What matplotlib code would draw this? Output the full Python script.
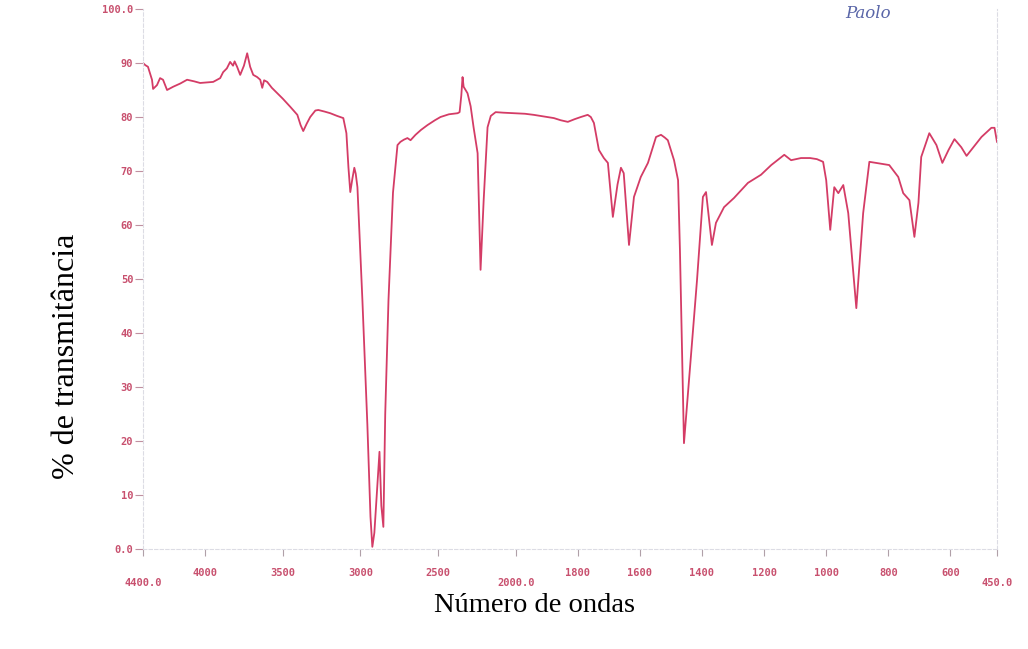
import numpy as np
import matplotlib
matplotlib.use("Agg")
import matplotlib.pyplot as plt

# IR spectrum (wavenumber in cm-1, % transmittance)
wavenumber = [4400, 4385, 4368, 4342, 4335, 4310, 4290, 4271, 4245, 4206, 4160, 4116,
              4070, 4032, 3948, 3903, 3884, 3860, 3839, 3820, 3810, 3794, 3774, 3750,
              3729, 3710, 3690, 3665, 3645, 3632, 3620, 3600, 3570, 3535, 3500, 3452,
              3406, 3385, 3368, 3345, 3323, 3290, 3271, 3230, 3194, 3150, 3110, 3090,
              3077, 3065, 3052, 3039, 3030, 3019, 2987, 2955, 2935, 2923, 2910, 2890,
              2877, 2865, 2852, 2840, 2819, 2790, 2761, 2742, 2720, 2697, 2677, 2645,
              2610, 2568, 2520, 2484, 2430, 2374, 2361, 2350, 2342, 2335, 2310, 2290,
              2271, 2245, 2226, 2206, 2181, 2160, 2129, 2080, 2013, 1970, 1942, 1910,
              1877, 1855, 1832, 1810, 1790, 1768, 1758, 1748, 1732, 1716, 1703, 1687,
              1672, 1661, 1652, 1635, 1619, 1597, 1574, 1548, 1532, 1520, 1510, 1490,
              1477, 1471, 1458, 1416, 1397, 1387, 1377, 1368, 1355, 1329, 1297, 1252,
              1210, 1177, 1135, 1113, 1081, 1052, 1030, 1010, 1000, 987, 974, 961,
              945, 929, 903, 881, 861, 839, 797, 768, 752, 732, 716, 703,
              694, 668, 645, 626, 606, 587, 565, 548, 526, 500, 468, 458, 450]
transmittance = [90.0, 89.6, 89.3, 86.9, 85.2, 85.9, 87.2, 86.9, 85.0, 85.6, 86.2, 86.9,
                 86.6, 86.3, 86.5, 87.2, 88.3, 89.0, 90.2, 89.5, 90.3, 89.3, 87.8, 89.5,
                 91.8, 89.3, 87.8, 87.4, 86.9, 85.4, 86.8, 86.5, 85.4, 84.4, 83.4, 81.9,
                 80.4, 78.5, 77.4, 78.8, 80.0, 81.2, 81.3, 81.0, 80.7, 80.2, 79.8, 77.0,
                 70.7, 66.1, 68.5, 70.6, 69.5, 67.0, 46.1, 23.0, 6.0, 0.4, 3.0, 12.0,
                 18.0, 8.0, 4.1, 25.0, 46.1, 66.0, 74.8, 75.4, 75.8, 76.1, 75.7, 76.7,
                 77.6, 78.5, 79.4, 80.0, 80.5, 80.7, 80.9, 84.0, 87.4, 85.6, 84.4, 82.0,
                 78.1, 73.3, 51.7, 64.6, 78.1, 80.2, 80.9, 80.8, 80.7, 80.6, 80.4, 80.1,
                 79.8, 79.4, 79.1, 79.6, 80.0, 80.4, 80.0, 78.9, 73.9, 72.4, 71.5, 61.5,
                 67.5, 70.6, 69.6, 56.3, 65.2, 68.9, 71.5, 76.3, 76.7, 76.2, 75.7, 72.0,
                 68.3, 55.4, 19.6, 49.8, 65.2, 66.1, 60.9, 56.3, 60.4, 63.3, 65.0, 67.8,
                 69.3, 71.1, 73.0, 72.0, 72.4, 72.4, 72.2, 71.7, 68.3, 59.1, 67.0, 65.9,
                 67.4, 62.2, 44.6, 62.2, 71.7, 71.5, 71.1, 68.9, 65.9, 64.6, 57.8, 64.1,
                 72.6, 77.0, 74.8, 71.5, 73.9, 75.9, 74.4, 72.8, 74.4, 76.3, 78.0, 78.0, 75.4]

major_ticks = [4000, 3500, 3000, 2500, 1800, 1600, 1400, 1200, 1000, 800, 600]
major_labels = ["4000", "3500", "3000", "2500", "1800", "1600", "1400", "1200", "1000", "800", "600"]
end_ticks = [4400, 2000, 450]
end_labels = ["4400.0", "2000.0", "450.0"]
y_ticks = [0, 10, 20, 30, 40, 50, 60, 70, 80, 90, 100]
y_labels = ["0.0", "10", "20", "30", "40", "50", "60", "70", "80", "90", "100.0"]

LINE = "#d43c66"
TICK = "#c8506e"


# the spectrometer doubles the scale below 2000 cm-1
def forward(w):
    w = np.asarray(w, dtype=float)
    return np.where(w >= 2000, w, 2 * w - 2000)


def inverse(p):
    p = np.asarray(p, dtype=float)
    return np.where(p >= 2000, p, (p + 2000) / 2)


fig = plt.figure(figsize=(10.28, 6.49), dpi=100)
ax = fig.add_axes([143 / 1028, 1 - 549 / 649, (997 - 143) / 1028, 540 / 649])
ax.set_xscale("function", functions=(forward, inverse))

ax.plot(wavenumber, transmittance, color=LINE, lw=1.3)

ax.set_xlim(4400, 450)
ax.set_ylim(0, 100)

ax.set_xticks(major_ticks, major_labels)
ax.set_xticks(end_ticks, end_labels, minor=True)
ax.set_yticks(y_ticks, y_labels)

for lab in ax.get_xticklabels(which="both") + ax.get_yticklabels():
    lab.set_fontfamily("DejaVu Sans Mono")
    lab.set_fontsize(7.5)
    lab.set_fontweight("bold")

ax.tick_params(axis="x", which="major", direction="out", length=5, width=0.8,
               color="#b0a0a8", labelcolor=TICK, pad=9)
ax.tick_params(axis="x", which="minor", direction="out", length=5, width=0.8,
               color="#b0a0a8", labelcolor=TICK, pad=16)
ax.tick_params(axis="y", direction="out", length=6, width=0.8,
               color="#c090a0", labelcolor=TICK, pad=1)

for side in ["left", "bottom", "right", "top"]:
    ax.spines[side].set_color("#dcdce4")
    ax.spines[side].set_linewidth(0.8)
    ax.spines[side].set_linestyle((0, (3, 2)))
ax.spines["top"].set_visible(False)

fig.text(535 / 1028, 1 - 605 / 649, "Número de ondas", family="Liberation Serif",
         fontsize=20.5, ha="center", va="center")
fig.text(66 / 1028, 1 - 356 / 649, "% de transmitância", family="Liberation Serif",
         fontsize=23, rotation=90, ha="center", va="center")
fig.text(868 / 1028, 1 - 14 / 649, "Paolo", family="DejaVu Serif", style="italic",
         fontsize=12, color="#5a66a8", ha="center", va="center")

fig.savefig("out.png", dpi=100)
